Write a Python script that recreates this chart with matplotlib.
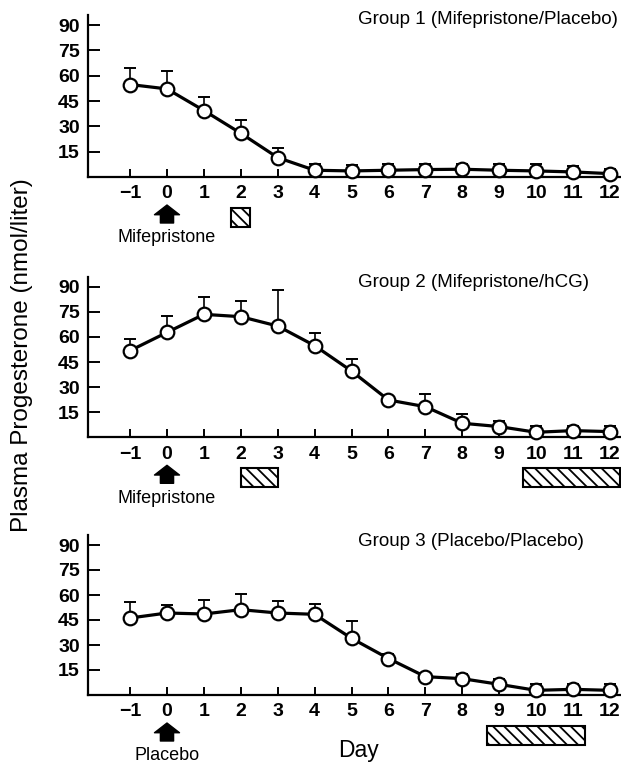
import matplotlib
matplotlib.use('Agg')
import matplotlib.pyplot as plt
from matplotlib.patches import Rectangle
from matplotlib.transforms import blended_transform_factory

plt.rcParams['font.family'] = ['Liberation Sans', 'DejaVu Sans']
plt.rcParams['hatch.linewidth'] = 1.3

# days of the study
days = list(range(-1, 13))

# group 1 (mifepristone / placebo): mean and top of error bar
group1_mean = [54.8, 52.2, 39.4, 25.9, 11.5, 4.0, 3.6, 4.0, 4.4, 4.6, 4.0, 3.6, 3.0, 2.0]
group1_top = [64.3, 63.1, 47.2, 33.5, 16.9, 7.5, 7.2, 7.5, 7.8, 8.0, 7.5, 7.8, 6.5, 5.0]

# group 2 (mifepristone / hCG)
group2_mean = [51.8, 62.7, 73.5, 72.1, 66.5, 54.8, 39.6, 22.3, 18.3, 8.4, 6.4, 3.0, 4.0, 3.4]
group2_top = [58.6, 72.5, 83.7, 81.7, 88.0, 62.5, 47.0, 24.5, 26.0, 14.0, 9.5, 7.0, 6.5, 7.0]

# group 3 (placebo / placebo)
group3_mean = [46.2, 49.2, 48.6, 51.2, 49.2, 48.4, 34.0, 21.9, 11.0, 9.8, 6.4, 2.8, 3.4, 2.8]
group3_top = [55.8, 54.2, 56.8, 60.4, 56.6, 54.6, 44.2, 24.5, 13.5, 12.5, 9.5, 6.5, 6.5, 6.5]

titles = ['Group 1 (Mifepristone/Placebo)',
          'Group 2 (Mifepristone/hCG)',
          'Group 3 (Placebo/Placebo)']
drug_labels = ['Mifepristone', 'Mifepristone', 'Placebo']
drug_day = 0
# hatched treatment periods (start day, end day)
hatch_spans = [[(1.74, 2.26)],
               [(2.0, 3.0), (9.65, 12.27)],
               [(8.66, 11.33)]]
yticks = [15, 30, 45, 60, 75, 90]

means = [group1_mean, group2_mean, group3_mean]
tops = [group1_top, group2_top, group3_top]

W, H = 621, 763
fig = plt.figure(figsize=(W / 100, H / 100), dpi=100)

# panel top / bottom in pixels
panel_px = [(15, 177), (276.7, 437.3), (535, 695)]
left_px, right_px = 88, 621
title_y = [19, 282, 541]


def fy(px):
    return 1 - px / H


for i in range(3):
    top, bot = panel_px[i]
    ax = fig.add_axes([left_px / W, fy(bot), (right_px - left_px) / W, (bot - top) / H])
    m = means[i]
    upper = [t - v for t, v in zip(tops[i], m)]
    ax.errorbar(days, m, yerr=[[0] * len(m), upper], fmt='none', ecolor='black',
                elinewidth=1.2, capsize=4, capthick=1.4, zorder=2)
    ax.plot(days, m, color='black', lw=2.3, marker='o', markersize=9.8,
            markerfacecolor='white', markeredgecolor='black', markeredgewidth=1.6,
            zorder=3, clip_on=False)

    ax.set_xlim(-2.14, 12.3)
    ax.set_ylim(0, 96)
    ax.set_xticks(days)
    ax.set_yticks(yticks)
    for s in ['top', 'right']:
        ax.spines[s].set_visible(False)
    for s in ['left', 'bottom']:
        ax.spines[s].set_linewidth(1.6)
    ax.tick_params(axis='x', direction='in', length=6, width=1.4, pad=6, labelsize=14)
    ax.tick_params(axis='y', direction='in', length=8.5, width=1.4, pad=6, labelsize=14)
    for lab in ax.get_xticklabels() + ax.get_yticklabels():
        lab.set_fontweight('bold')

    fig.text(358 / W, fy(title_y[i]), titles[i], fontsize=13.5, ha='left', va='center')

    trans = blended_transform_factory(ax.transData, fig.transFigure)
    # arrow for the drug given on day 0
    ax.annotate('', xy=(drug_day, fy(bot + 28)), xycoords=trans,
                xytext=(drug_day, fy(bot + 46)), textcoords=trans,
                arrowprops=dict(arrowstyle='simple,head_width=18,head_length=7,tail_width=9.5',
                                mutation_scale=1, fc='black', ec='black',
                                shrinkA=0, shrinkB=0), annotation_clip=False)
    ax.text(drug_day, fy(bot + 61), drug_labels[i], transform=trans,
            fontsize=13, ha='center', va='center')

    for x0, x1 in hatch_spans[i]:
        ax.add_patch(Rectangle((x0, fy(bot + 50)), x1 - x0, (50 - 31) / H,
                               transform=trans, facecolor='white', edgecolor='black',
                               lw=1.5, hatch='\\\\\\', clip_on=False))

fig.text(358 / W, fy(751), 'Day', fontsize=16.5, ha='center', va='center')
fig.text(22 / W, fy(355), 'Plasma Progesterone (nmol/liter)', fontsize=17.5,
         rotation=90, ha='center', va='center')

fig.savefig('out.png', dpi=100)
